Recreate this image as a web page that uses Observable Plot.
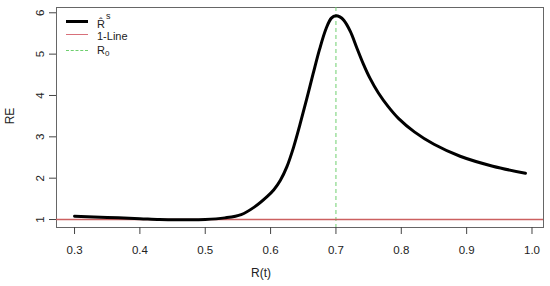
<!DOCTYPE html>
<html>
<head>
<meta charset="utf-8">
<script src="https://cdn.jsdelivr.net/npm/d3@7"></script>
<script src="https://cdn.jsdelivr.net/npm/@observablehq/plot@0.6"></script>
<style>
  body { margin: 0; background: white; }
  #wrap { position: relative; width: 550px; height: 286px; font-family: "Liberation Sans", Arial, sans-serif; color: #222; }
  .lab { position: absolute; font-size: 12px; white-space: nowrap; }
  .leg { position: absolute; font-size: 11px; white-space: nowrap; line-height: 1; color: #222; }
  .samp { position: absolute; width: 22px; height: 0; }
</style>
</head>
<body>
<div id="wrap"></div>
<script>
// R(t) values and relative efficiency (RE)
const rt = [0.30, 0.35, 0.40, 0.43, 0.46, 0.50, 0.53, 0.555, 0.575, 0.595, 0.605, 0.615, 0.625, 0.635, 0.645, 0.655, 0.665, 0.675, 0.685, 0.693, 0.70, 0.706, 0.712, 0.722, 0.732, 0.742, 0.752, 0.765, 0.78, 0.796, 0.82, 0.85, 0.89, 0.94, 0.99];
const re = [1.08, 1.05, 1.02, 1.00, 0.995, 1.00, 1.04, 1.12, 1.30, 1.56, 1.72, 1.95, 2.28, 2.74, 3.30, 3.90, 4.52, 5.12, 5.62, 5.87, 5.93, 5.90, 5.82, 5.55, 5.15, 4.76, 4.42, 4.06, 3.73, 3.44, 3.12, 2.82, 2.53, 2.29, 2.12];
const xTicks = [0.3, 0.4, 0.5, 0.6, 0.7, 0.8, 0.9, 1.0];
const yTicks = [1, 2, 3, 4, 5, 6];
const oneLine = [1];
const r0 = [0.7];

const data = rt.map((x, i) => ({x, y: re[i]}));

const chart = Plot.plot({
  width: 550,
  height: 286,
  marginLeft: 56,
  marginRight: 7,
  marginTop: 7,
  marginBottom: 59,
  x: {domain: [0.2724, 1.0176]},
  y: {domain: [0.807, 6.128]},
  style: {fontFamily: "Liberation Sans, Arial, sans-serif", fontSize: "11.5px", color: "#222", background: "white"},
  marks: [
    Plot.frame({stroke: "#666"}),
    Plot.ruleX(r0, {x: d => d, stroke: "#6fcf6f", strokeWidth: 1, strokeDasharray: "4,3"}),
    Plot.ruleY(oneLine, {y: d => d, stroke: "#cc6060", strokeWidth: 1.3}),
    Plot.line(data, {x: "x", y: "y", stroke: "black", strokeWidth: 3, curve: "catmull-rom"}),
    Plot.axisX(xTicks, {tickSize: 7, tickPadding: 11, tickFormat: d => d.toFixed(1), label: null, stroke: "#444"}),
    Plot.axisY(yTicks, {tickSize: 7, tickPadding: 6, tickRotate: -90, label: null, stroke: "#444"})
  ]
});
const wrap = document.getElementById("wrap");
wrap.appendChild(chart);

function add(html, cls, style) {
  const d = document.createElement("div");
  d.className = cls;
  d.innerHTML = html;
  Object.assign(d.style, style);
  wrap.appendChild(d);
}
// axis titles
add("R(t)", "lab", {left: "251px", top: "266px"});
add("RE", "lab", {left: "2px", top: "109px", transform: "rotate(-90deg)", transformOrigin: "center"});
// legend
add("", "samp", {left: "66px", top: "20px", borderTop: "3px solid black"});
add("", "samp", {left: "66px", top: "34px", borderTop: "1px solid #d8707a"});
add("", "samp", {left: "66px", top: "50px", borderTop: "1px dashed #6fcf6f"});
add("R&#770;<span style='font-size:9px;position:relative;top:-9px;left:1px'>s</span>", "leg", {left: "97px", top: "19px"});
add("1-Line", "leg", {left: "97px", top: "31px"});
add("R<span style='font-size:8px;position:relative;top:2px'>0</span>", "leg", {left: "97px", top: "45px"});
</script>
</body>
</html>
